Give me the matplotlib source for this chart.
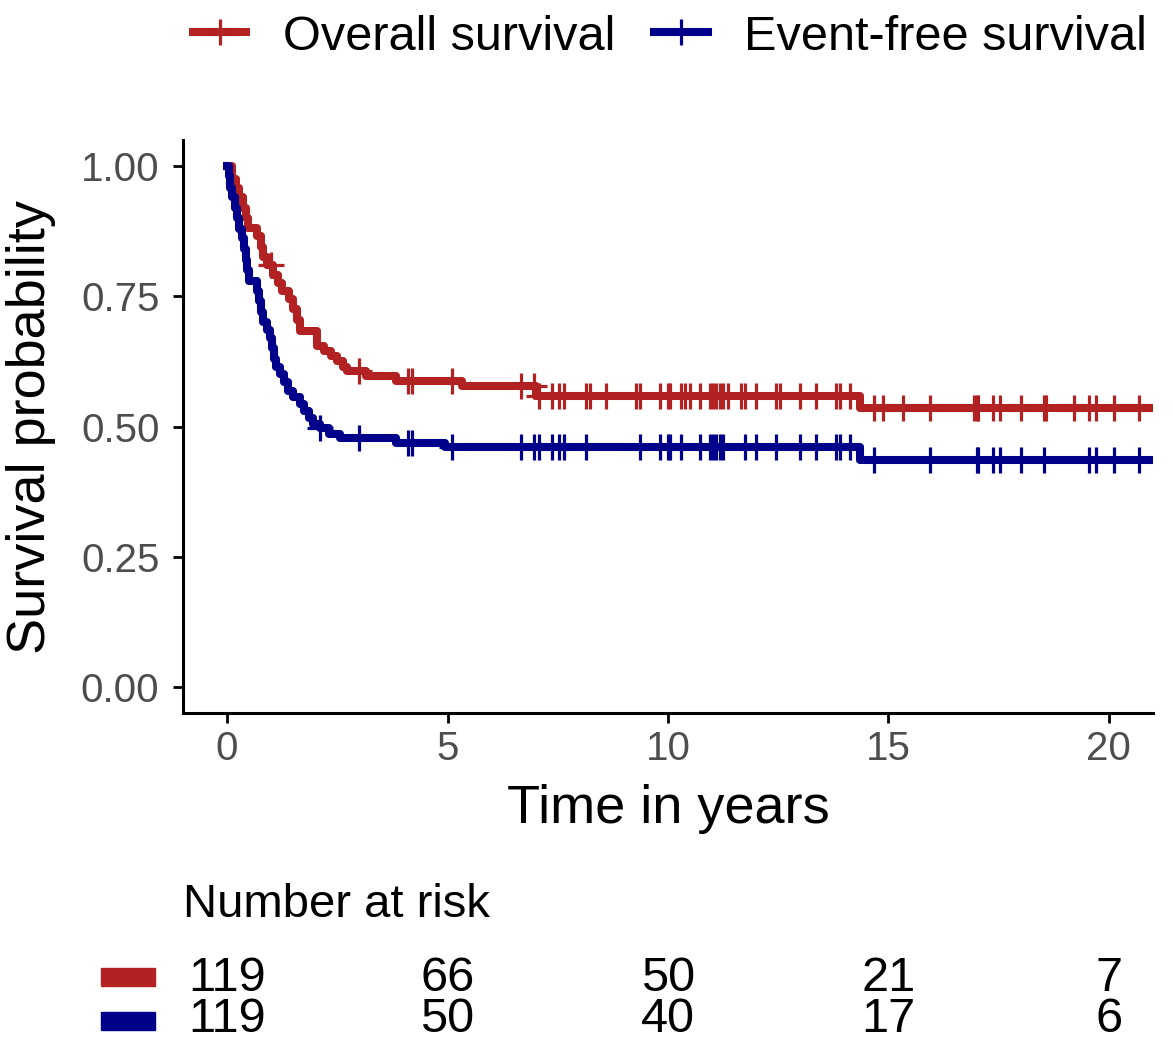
import numpy as np
import matplotlib.pyplot as plt
from matplotlib.lines import Line2D
from matplotlib.patches import Rectangle
import matplotlib.transforms as mtransforms

plt.rcParams['font.family'] = ['Liberation Sans', 'DejaVu Sans']

# Kaplan-Meier steps (time in years, survival)
os_times = [0, 0.12, 0.2, 0.28, 0.36, 0.42, 0.47, 0.68, 0.76, 0.82, 0.9, 1.05, 1.15,
            1.25, 1.4, 1.5, 1.58, 1.65, 2.05, 2.2, 2.35, 2.5, 2.62, 2.72, 3.16, 3.84,
            5.33, 7.0, 14.35]
os_surv = [1.0, 0.975, 0.958, 0.94, 0.92, 0.90, 0.882, 0.865, 0.845, 0.825, 0.81, 0.79, 0.775,
           0.76, 0.745, 0.725, 0.705, 0.683, 0.655, 0.645, 0.635, 0.625, 0.615, 0.607, 0.597, 0.588,
           0.578, 0.558, 0.536]
os_cens = [1.0, 3.0, 4.1, 4.2, 5.1, 6.66, 6.95, 7.07, 7.36, 7.52, 7.63, 8.15, 8.24, 8.6,
           9.28, 9.37, 9.82, 10.0, 10.05, 10.29, 10.38, 10.5, 10.72, 10.95, 11.02, 11.08,
           11.17, 11.24, 11.35, 11.65, 11.74, 11.99, 12.44, 12.53, 13.0, 13.36, 13.81, 13.9,
           14.13, 14.67, 14.88, 15.33, 15.94, 16.93, 17.0, 17.04, 17.36, 17.54, 18.01, 18.53,
           18.58, 19.21, 19.55, 19.71, 20.11, 20.68]

efs_times = [0, 0.04, 0.07, 0.12, 0.17, 0.22, 0.26, 0.34, 0.38, 0.42, 0.45, 0.5, 0.68,
             0.72, 0.76, 0.81, 0.9, 0.97, 1.02, 1.06, 1.12, 1.2, 1.3, 1.38, 1.5, 1.65, 1.75,
             1.85, 1.95, 2.1, 2.3, 2.55, 3.84, 4.95, 14.35]
efs_surv = [1.0, 0.98, 0.958, 0.94, 0.92, 0.90, 0.88, 0.862, 0.84, 0.82, 0.80, 0.78, 0.76,
            0.74, 0.72, 0.70, 0.685, 0.67, 0.65, 0.63, 0.615, 0.60, 0.585, 0.568, 0.556, 0.543, 0.53,
            0.516, 0.505, 0.497, 0.486, 0.478, 0.468, 0.461, 0.436]
efs_cens = [2.1, 3.0, 4.1, 4.2, 5.1, 6.66, 6.95, 7.07, 7.36, 7.52, 7.63, 8.15, 9.37, 9.82,
            10.0, 10.05, 10.29, 10.72, 10.95, 11.02, 11.08, 11.17, 11.24, 11.74, 11.99, 12.44,
            13.0, 13.36, 13.81, 13.9, 14.13, 14.67, 15.94, 17.0, 17.04, 17.36, 17.54, 18.01,
            18.53, 19.55, 19.71, 20.11, 20.68]

risk_times = [0, 5, 10, 15, 20]
os_risk = [119, 66, 50, 21, 7]
efs_risk = [119, 50, 40, 17, 6]

labels = ["Overall survival", "Event-free survival"]
colors = ["#B22222", "#00008B"]


def step_value(times, surv, t):
    idx = np.searchsorted(times, t, side='right') - 1
    return np.asarray(surv)[idx]


W, H = 1173, 1043
fig = plt.figure(figsize=(W / 100, H / 100), dpi=100)
ax = fig.add_axes([183 / W, 1 - 713 / H, (1153 - 183) / W, (713 - 140) / H])

curves = [(os_times, os_surv, os_cens), (efs_times, efs_surv, efs_cens)]
for (times, surv, cens), col in zip(curves, colors):
    ax.step(list(times) + [21.5], list(surv) + [surv[-1]], where='post', color=col,
            lw=5.8, solid_joinstyle='round')
    ax.plot(cens, step_value(times, surv, cens), ls='none', marker='+', ms=19, mew=2.3,
            color=col)

ax.set_xlim(-1, 21)
ax.set_ylim(-0.05, 1.05)
ax.set_xticks(risk_times)
ax.set_yticks([0, 0.25, 0.5, 0.75, 1.0])
ax.set_yticklabels(["0.00", "0.25", "0.50", "0.75", "1.00"])
for s in ['top', 'right']:
    ax.spines[s].set_visible(False)
for s in ['left', 'bottom']:
    ax.spines[s].set_linewidth(2.2)
ax.tick_params(length=7, width=2, labelsize=29, labelcolor='#4D4D4D')
ax.tick_params(axis='y', pad=10)
ax.tick_params(axis='x', pad=5)
ax.set_xlabel("Time in years", fontsize=39, labelpad=12)
ax.set_ylabel("Survival probability", fontsize=39, labelpad=18)

handles = [Line2D([], [], color=c, lw=5.8, marker='+', ms=19, mew=2.3) for c in colors]
fig.legend(handles, labels, loc='center', bbox_to_anchor=(670 / W, 1 - 37 / H), ncol=2,
           frameon=False, fontsize=35, handlelength=1.1, handletextpad=0.75,
           columnspacing=0.8, borderpad=0, borderaxespad=0)

# risk table under the plot
fig.text(183 / W, 1 - 905 / H, "Number at risk", ha='left', va='center', fontsize=34)
trans = mtransforms.blended_transform_factory(ax.transData, fig.transFigure)
for row, col, base, rect_y in [(os_risk, colors[0], 991, 968), (efs_risk, colors[1], 1032, 1012)]:
    for t, n in zip(risk_times, row):
        fig.text(t, 1 - base / H, str(n), transform=trans, ha='center', va='baseline',
                 fontsize=35)
    fig.add_artist(Rectangle((101 / W, 1 - (rect_y + 18) / H), 54 / W, 18 / H,
                             transform=fig.transFigure, color=col))

fig.savefig("out.png", dpi=100)
